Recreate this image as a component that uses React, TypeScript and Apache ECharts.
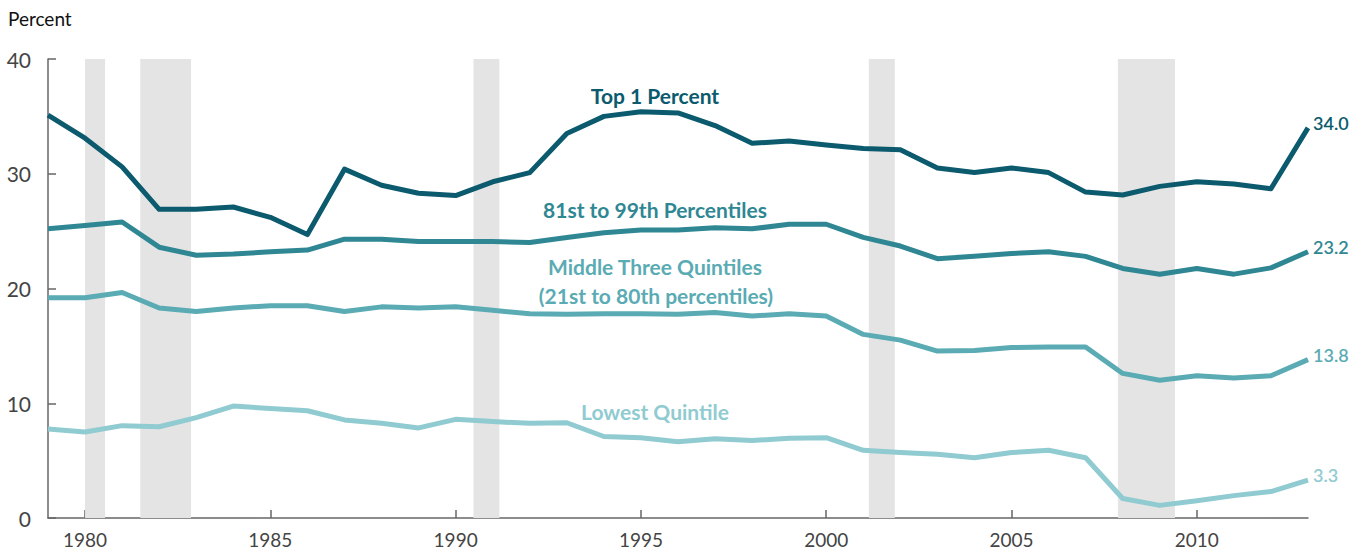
import React, { useEffect, useRef } from "react";
import * as echarts from "echarts";

const years = [
  1979, 1980, 1981, 1982, 1983, 1984, 1985, 1986, 1987, 1988, 1989, 1990, 1991, 1992, 1993, 1994, 1995,
  1996, 1997, 1998, 1999, 2000, 2001, 2002, 2003, 2004, 2005, 2006, 2007, 2008, 2009, 2010, 2011, 2012, 2013,
];
const top1 = [
  35.1, 33.1, 30.6, 26.9, 26.9, 27.1, 26.2, 24.7, 30.4, 29.0, 28.3, 28.1, 29.3, 30.1, 33.5, 35.0, 35.4,
  35.3, 34.2, 32.65, 32.85, 32.5, 32.2, 32.1, 30.5, 30.1, 30.5, 30.1, 28.4, 28.15, 28.9, 29.3, 29.1, 28.7, 34.0,
];
const p81to99 = [
  25.2, 25.5, 25.8, 23.6, 22.9, 23.0, 23.2, 23.35, 24.3, 24.3, 24.1, 24.1, 24.1, 24.0, 24.45, 24.85, 25.1,
  25.1, 25.3, 25.2, 25.6, 25.6, 24.45, 23.7, 22.6, 22.8, 23.05, 23.2, 22.8, 21.75, 21.25, 21.75, 21.25, 21.8, 23.2,
];
const middle3 = [
  19.2, 19.2, 19.65, 18.3, 18.0, 18.3, 18.5, 18.5, 18.0, 18.4, 18.3, 18.4, 18.1, 17.8, 17.75, 17.8, 17.8,
  17.75, 17.9, 17.6, 17.8, 17.6, 16.0, 15.5, 14.55, 14.6, 14.85, 14.9, 14.9, 12.6, 12.0, 12.4, 12.2, 12.4, 13.8,
];
const lowest = [
  7.75, 7.5, 8.05, 7.95, 8.75, 9.75, 9.55, 9.35, 8.55, 8.25, 7.85, 8.6, 8.4, 8.25, 8.3, 7.1, 7.0,
  6.65, 6.9, 6.75, 6.95, 7.0, 5.9, 5.7, 5.55, 5.25, 5.7, 5.9, 5.25, 1.7, 1.1, 1.5, 1.95, 2.3, 3.3,
];
const recessions: [number, number][] = [
  [1980.0, 1980.54],
  [1981.49, 1982.86],
  [1990.48, 1991.18],
  [2001.15, 2001.85],
  [2007.87, 2009.41],
];
const xTicks = [1980, 1985, 1990, 1995, 2000, 2005, 2010];
const yTicks = [0, 10, 20, 30, 40];

const seriesDefs = [
  { name: "Top 1 Percent", data: top1, color: "#0b5a6e" },
  { name: "81st to 99th Percentiles", data: p81to99, color: "#2f8793" },
  { name: "Middle Three Quintiles", data: middle3, color: "#5aabb3" },
  { name: "Lowest Quintile", data: lowest, color: "#8fcbd0" },
];

export default function App() {
  const ref = useRef<HTMLDivElement>(null);
  useEffect(() => {
    if (!ref.current) return;
    const chart = echarts.init(ref.current, undefined, { renderer: "svg" });
    const font = "Lato, 'Noto Sans', sans-serif";
    const series: any[] = seriesDefs.map((s, i) => ({
      type: "line",
      name: s.name,
      data: years.map((y, j) => [y, s.data[j]]),
      showSymbol: false,
      symbol: "none",
      lineStyle: { color: s.color, width: 5, cap: "butt", join: "round" },
      itemStyle: { color: s.color },
      z: 3,
      endLabel: {
        show: true,
        formatter: (p: any) => Number(p.value[1]).toFixed(1),
        color: s.color,
        fontFamily: font,
        fontSize: 18,
        fontWeight: 600,
        distance: 5,
        offset: [0, -5],
      },
      markArea:
        i === 0
          ? {
              silent: true,
              itemStyle: { color: "#e4e4e4" },
              data: recessions.map(([a, b]) => [{ xAxis: a }, { xAxis: b }]),
              z: 1,
            }
          : undefined,
    }));
    const labelText = (text: string, x: number, y: number, color: string) => ({
      type: "text",
      x,
      y,
      style: {
        text,
        fill: color,
        font: `bold 21px ${font}`,
        align: "center",
        verticalAlign: "middle",
      },
      z: 10,
    });
    chart.setOption({
      animation: false,
      grid: { left: 48, right: 59, top: 59, bottom: 36, containLabel: false },
      xAxis: {
        type: "value",
        min: 1979,
        max: 2013,
        axisLine: { show: true, lineStyle: { color: "#666", width: 1.5 } },
        axisTick: {
          show: true,
          inside: true,
          length: 8,
          customValues: xTicks,
          lineStyle: { color: "#666", width: 1.5 },
        },
        axisLabel: {
          customValues: xTicks,
          color: "#444",
          fontFamily: font,
          fontSize: 19,
          margin: 12,
          formatter: (v: number) => String(v),
        },
        splitLine: { show: false },
      },
      yAxis: {
        type: "value",
        min: 0,
        max: 40,
        interval: 10,
        axisLine: { show: true, lineStyle: { color: "#666", width: 1.5 } },
        axisTick: { show: true, inside: true, length: 8, lineStyle: { color: "#666", width: 1.5 } },
        axisLabel: {
          customValues: yTicks,
          color: "#444",
          fontFamily: font,
          fontSize: 21,
          margin: 17,
        },
        splitLine: { show: false },
      },
      graphic: [
        {
          type: "text",
          x: 8,
          y: 18,
          style: {
            text: "Percent",
            fill: "#111",
            font: `19px ${font}`,
            verticalAlign: "middle",
          },
        },
        labelText("Top 1 Percent", 655, 95, "#0b5a6e"),
        labelText("81st to 99th Percentiles", 655, 209, "#2f8793"),
        labelText("Middle Three Quintiles", 655, 266, "#5aabb3"),
        labelText("(21st to 80th percentiles)", 656, 295, "#5aabb3"),
        labelText("Lowest Quintile", 655, 411, "#8fcbd0"),
      ],
      series,
    });
    return () => chart.dispose();
  }, []);
  return (
    <div
      ref={ref}
      style={{ position: "fixed", left: 0, top: 0, width: 1367, height: 554, background: "#fff" }}
    />
  );
}
